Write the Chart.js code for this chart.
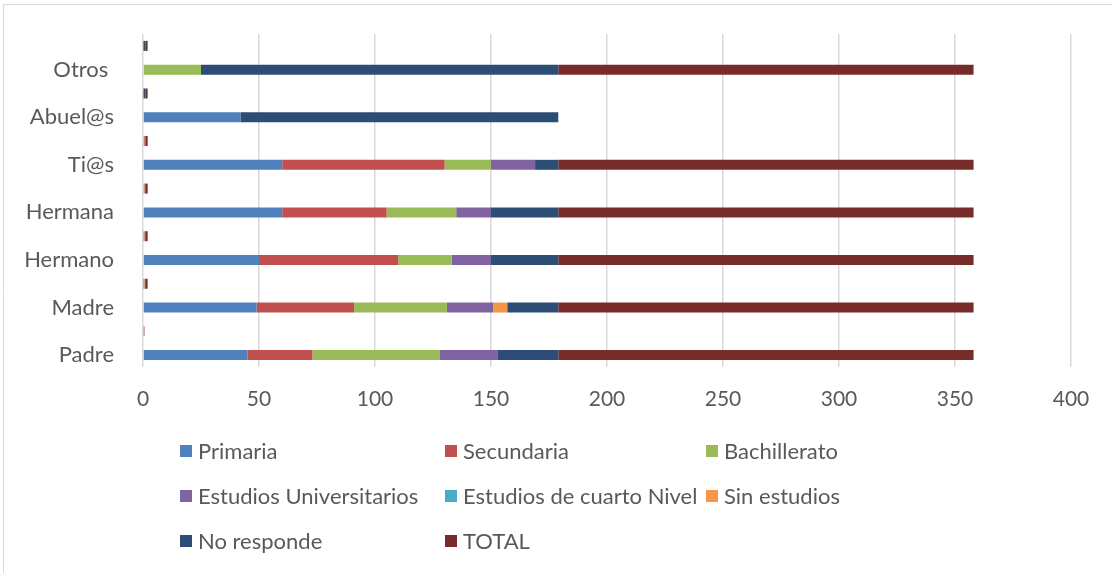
<!DOCTYPE html>
<html>
<head>
<meta charset="utf-8">
<script src="https://cdn.jsdelivr.net/npm/chart.js@4/dist/chart.umd.min.js"></script>
<style>
html,body{margin:0;padding:0;background:#fff;}
#wrap{position:absolute;left:0;top:0;width:1112px;height:573px;}
</style>
</head>
<body>
<div id="wrap"><canvas id="c" width="1112" height="573"></canvas></div>
<script>
// Category rows, top to bottom (empty labels are the small share rows)
const categories = ["", "Otros ", "", "Abuel@s", "", "Ti@s", "", "Hermana", "", "Hermano", "", "Madre", "", "Padre"];
const xTicks = [0, 50, 100, 150, 200, 250, 300, 350, 400];

const primaria       = [null, null, 0.23, 42, 0.34, 60, 0.34, 60, 0.28, 50, 0.27, 49, null, 45];
const secundaria     = [null, null, null, null, 0.39, 70, 0.25, 45, 0.34, 60, 0.23, 42, null, 28];
const bachillerato   = [0.14, 25, null, null, 0.11, 20, 0.17, 30, 0.13, 23, 0.22, 40, null, 55];
const universitarios = [null, null, null, null, 0.11, 19, 0.08, 15, 0.09, 17, 0.11, 20, null, 25];
const cuartoNivel    = [null, null, null, null, null, null, null, null, null, null, null, null, null, null];
const sinEstudios    = [null, null, null, null, null, null, null, null, null, null, 0.03, 6, null, null];
const noResponde     = [0.86, 154, 0.77, 137, 0.06, 10, 0.16, 29, 0.16, 29, 0.12, 22, null, 26];
const total          = [1, 179, 1, null, 1, 179, 1, 179, 1, 179, 1, 179, 0.6, 179];

const seriesNames = ["Primaria", "Secundaria", "Bachillerato", "Estudios Universitarios", "Estudios de cuarto Nivel", "Sin estudios", "No responde", "TOTAL"];
const seriesData = [primaria, secundaria, bachillerato, universitarios, cuartoNivel, sinEstudios, noResponde, total];
const seriesColors = ["#4f81bd", "#c0504d", "#9bbb59", "#8064a2", "#4bacc6", "#f79646", "#2c4d75", "#772c2a"];

const FONT = "Lato";
const TXT = "#595959";

const legendPlugin = {
  id: "gridLegend",
  afterDraw(chart) {
    const ctx = chart.ctx;
    const cols = [180, 445, 706];
    const rows = [451, 496, 541];
    ctx.save();
    ctx.font = "22px " + FONT;
    ctx.textBaseline = "middle";
    ctx.textAlign = "left";
    chart.data.datasets.forEach((ds, i) => {
      const x = cols[i % 3], y = rows[Math.floor(i / 3)];
      ctx.fillStyle = ds.backgroundColor;
      ctx.fillRect(x, y - 6, 12, 12);
      ctx.fillStyle = TXT;
      ctx.fillText(ds.label, x + 18, y + 1);
    });
    ctx.restore();
  }
};

const framePlugin = {
  id: "frame",
  beforeDraw(chart) {
    const ctx = chart.ctx;
    ctx.save();
    ctx.fillStyle = "#fff";
    ctx.fillRect(0, 0, chart.width, chart.height);
    ctx.strokeStyle = "#d9d9d9";
    ctx.lineWidth = 1;
    ctx.beginPath();
    ctx.moveTo(3.5, chart.height);
    ctx.lineTo(3.5, 4.5);
    ctx.lineTo(chart.width, 4.5);
    ctx.stroke();
    ctx.restore();
  }
};

new Chart(document.getElementById("c"), {
  type: "bar",
  data: {
    labels: categories,
    datasets: seriesNames.map((n, i) => ({
      label: n,
      data: seriesData[i],
      backgroundColor: seriesColors[i],
      borderWidth: 0,
      categoryPercentage: 1,
      barPercentage: 0.42
    }))
  },
  options: {
    indexAxis: "y",
    responsive: false,
    animation: false,
    layout: { padding: { top: 34, right: 41, bottom: 161, left: 0 } },
    plugins: { legend: { display: false }, tooltip: { enabled: false } },
    scales: {
      x: {
        stacked: true,
        min: 0, max: 400,
        afterBuildTicks(scale) { scale.ticks = xTicks.map(v => ({ value: v })); },
        afterFit(scale) { scale.height = 45; scale.paddingLeft = 0; scale.paddingRight = 0; },
        grid: { color: "#d9d9d9", lineWidth: 1.5, drawTicks: false },
        border: { display: false },
        ticks: { color: TXT, font: { family: FONT, size: 21 }, padding: 20, maxRotation: 0 }
      },
      y: {
        stacked: true,
        afterFit(scale) { scale.width = 143; scale.paddingTop = 0; scale.paddingBottom = 0; },
        grid: { display: false, drawTicks: false },
        border: { display: false },
        ticks: { color: TXT, font: { family: FONT, size: 22 }, padding: 29, autoSkip: false }
      }
    }
  },
  plugins: [framePlugin, legendPlugin]
});
</script>
</body>
</html>
